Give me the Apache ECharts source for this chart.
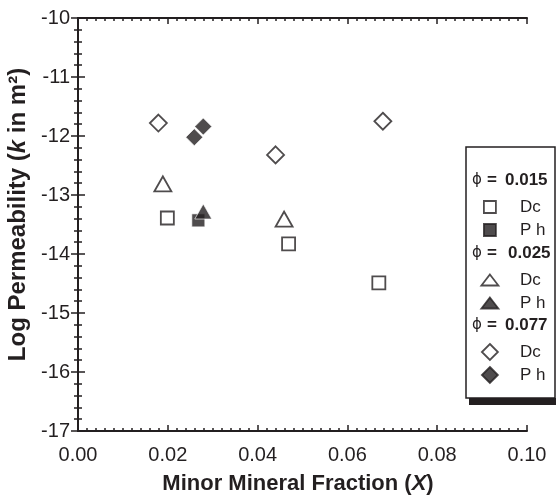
<!DOCTYPE html>
<html><head><meta charset="utf-8">
<script src="https://cdn.jsdelivr.net/npm/echarts@6/dist/echarts.min.js"></script>
<style>html,body{margin:0;padding:0;background:#fff}#c{width:556px;height:497px}</style>
</head><body><div id="c"></div>
<script>
const xTicks = [0, 0.02, 0.04, 0.06, 0.08, 0.10];
const yTicks = [-17, -16, -15, -14, -13, -12, -11, -10];
const groups = ['0.015', '0.025', '0.077'];
const types = ['Dc', 'Ph'];
const s015Dc = [[0.0199, -13.39], [0.0469, -13.83], [0.0670, -14.49]];
const s015Ph = [[0.0268, -13.43]];
const s025Dc = [[0.0189, -12.81], [0.0459, -13.41]];
const s025Ph = [[0.0279, -13.28]];
const s077Dc = [[0.0179, -11.78], [0.0440, -12.32], [0.0679, -11.75]];
const s077Ph = [[0.0259, -12.02], [0.0279, -11.84]];

const INK = '#231f20';
const FONT = '"Liberation Sans", Arial, sans-serif';
const openStyle = {color: '#fff', borderColor: INK, borderWidth: 1.8};
const fillStyle = {color: INK, borderColor: '#fff', borderWidth: 0.8};
const legOpen = {color: '#fff', borderColor: INK, borderWidth: 1.8};
const legFill = {color: INK, borderColor: INK, borderWidth: 1.8};

function ser(name, data, symbol, size, style) {
  return {name, type: 'scatter', data, symbol, symbolSize: size, itemStyle: style,
    emphasis: {disabled: true}, z: 3};
}
const symbols = ['rect', 'triangle', 'diamond'];
const series = [
  ser('0.015 Dc', s015Dc, 'rect', 13, openStyle),
  ser('0.015 Ph', s015Ph, 'rect', 13, fillStyle),
  ser('0.025 Dc', s025Dc, 'triangle', [17, 15], openStyle),
  ser('0.025 Ph', s025Ph, 'triangle', [17, 15], fillStyle),
  ser('0.077 Dc', s077Dc, 'diamond', 17, openStyle),
  ser('0.077 Ph', s077Ph, 'diamond', 17, fillStyle)
];

const axisCommon = {
  axisLine: {show: true, lineStyle: {color: INK, width: 2}},
  splitLine: {show: false},
  minorSplitLine: {show: false}
};
function xAx(extra) {
  return Object.assign({type: 'value', min: xTicks[0], max: xTicks[xTicks.length - 1], interval: 0.02,
    minorTick: {show: true, splitNumber: 10, length: -3, lineStyle: {color: INK, width: 1.5}},
    axisTick: {show: true, length: -6, lineStyle: {color: INK, width: 1.5}}},
    axisCommon, extra);
}
function yAx(extra) {
  return Object.assign({type: 'value', min: yTicks[0], max: yTicks[yTicks.length - 1], interval: 1,
    minorTick: {show: true, splitNumber: 5, length: -4, lineStyle: {color: INK, width: 1.5}},
    axisTick: {show: true, length: -7, lineStyle: {color: INK, width: 1.5}}},
    axisCommon, extra);
}

// legend layout: one legend per row
const iconSizes = [[12, 12], [17, 11], [16, 16]];
const headerYs = [182, 255, 327];
const eqWidths = [18, 21, 18];
const legends = [];
groups.forEach((g, gi) => {
  types.forEach((t, ti) => {
    const cy = headerYs[gi] + 25 + ti * 23;
    const [w, h] = iconSizes[gi];
    legends.push({
      orient: 'vertical', left: 489 - w / 2, top: cy - 10, padding: 0, z: 20,
      itemWidth: w, itemHeight: h, symbolKeepAspect: false, selectedMode: false,
      data: [{name: g + ' ' + t, icon: symbols[gi], itemStyle: t === 'Dc' ? legOpen : legFill}],
      formatter: n => n.split(' ')[1] === 'Ph' ? 'P h' : 'Dc',
      textStyle: {fontFamily: FONT, fontSize: 17, lineHeight: 20, color: INK,
        padding: [0, 0, 0, 25 - w / 2]}
    });
  });
});

const option = {
  animation: false,
  backgroundColor: '#fff',
  grid: {left: 78, top: 18, right: 29, bottom: 66, outerBoundsMode: 'none', containLabel: false},
  xAxis: [
    xAx({position: 'bottom',
      name: 'Minor Mineral Fraction ({i|X})', nameLocation: 'middle', nameGap: 42,
      nameTextStyle: {fontFamily: FONT, fontSize: 22, fontWeight: 'bold', color: INK,
        padding: [0, 9, 0, 0],
        rich: {i: {fontFamily: FONT, fontSize: 22, fontWeight: 'bold', fontStyle: 'italic', color: INK}}},
      axisLabel: {fontFamily: FONT, fontSize: 20, color: INK, margin: 14,
        formatter: v => v.toFixed(2)}}),
    xAx({position: 'top', axisLabel: {show: false}})
  ],
  yAxis: [
    yAx({position: 'left',
      name: 'Log Permeability ({i|k} in m²)', nameLocation: 'middle', nameGap: 47,
      nameTextStyle: {fontFamily: FONT, fontSize: 24, fontWeight: 'bold', color: INK,
        padding: [0, 0, 0, 20],
        rich: {i: {fontFamily: FONT, fontSize: 24, fontWeight: 'bold', fontStyle: 'italic', color: INK}}},
      axisLabel: {fontFamily: FONT, fontSize: 20, color: INK, margin: 8}}),
    yAx({position: 'right', axisLabel: {show: false}})
  ],
  legend: legends,
  graphic: [
    {type: 'rect', z: 10, shape: {x: 469, y: 398, width: 90, height: 7}, style: {fill: INK}},
    {type: 'rect', z: 10, shape: {x: 466, y: 147, width: 89, height: 251},
      style: {fill: '#fff', stroke: INK, lineWidth: 1.5}}
  ].concat(groups.map((g, i) => ({
    type: 'text', z: 11, left: 472, top: headerYs[i] - 10,
    style: {
      text: '{p|ϕ}{e|=}{b|' + g + '}',
      rich: {
        p: {fontFamily: '"DejaVu Sans", sans-serif', fontSize: 15, fill: INK, width: 15},
        e: {fontFamily: FONT, fontSize: 17, fontWeight: 'bold', fill: INK, width: eqWidths[i]},
        b: {fontFamily: FONT, fontSize: 17, fontWeight: 'bold', fill: INK}
      }
    }
  }))),
  series
};
const chart = echarts.init(document.getElementById('c'), null, {renderer: 'canvas'});
chart.setOption(option);
</script></body></html>
